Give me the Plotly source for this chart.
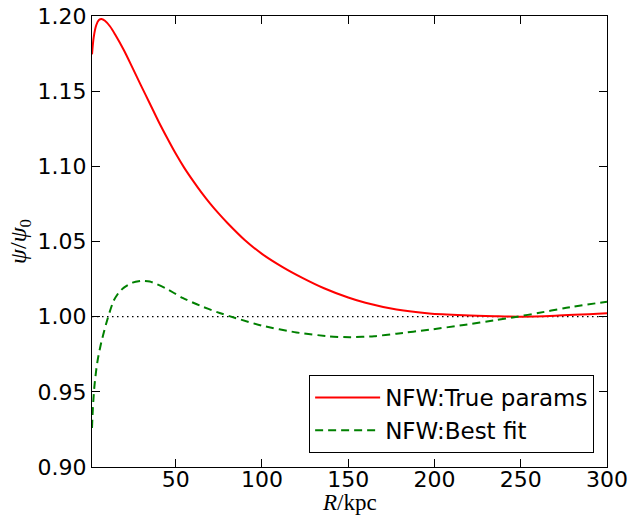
import plotly.graph_objects as go

# Red: NFW with true params
r_true = [1.5, 2.5, 4, 5.5, 7, 9, 12, 15, 20, 25, 30, 35, 40, 45, 50, 55, 60, 65,
          70, 75, 80, 90, 100, 112, 124, 136, 150, 160, 178, 197, 217, 235, 250,
          270, 300]
psi_true = [1.1745, 1.1860, 1.1940, 1.1973, 1.1980, 1.1968, 1.1930, 1.1875, 1.1772,
            1.1655, 1.1535, 1.1418, 1.1300, 1.1190, 1.1085, 1.0990, 1.0905, 1.0825,
            1.0752, 1.0685, 1.0623, 1.0510, 1.0418, 1.0330, 1.0255, 1.0189, 1.0127,
            1.0092, 1.0047, 1.0021, 1.0009, 1.0003, 1.0000, 1.0006, 1.0022]

# Green: NFW best fit
r_fit = [1.5, 2, 2.5, 3, 4, 5, 6.5, 8, 10, 12, 14, 17, 20, 25, 30, 35, 44, 54, 64,
         74, 85, 100, 120, 139, 151, 165, 178, 197, 217, 236, 248, 260, 275, 300]
psi_fit = [0.926, 0.939, 0.948, 0.955, 0.965, 0.9725, 0.981, 0.988, 0.9965, 1.0040,
           1.0105, 1.0160, 1.0193, 1.0226, 1.0238, 1.0234, 1.0190, 1.0125, 1.0074,
           1.0030, 0.9990, 0.9940, 0.9895, 0.9869, 0.9863, 0.9870, 0.9887, 0.9913,
           0.9945, 0.9978, 1.0000, 1.0024, 1.0056, 1.0100]

ref_x = [1.5, 300]
ref_y = [1.0, 1.0]

x_ticks = [50, 100, 150, 200, 250, 300]
y_ticks = [0.90, 0.95, 1.00, 1.05, 1.10, 1.15, 1.20]

fig = go.Figure()
fig.add_trace(go.Scatter(x=ref_x, y=ref_y, mode="lines", showlegend=False,
                         line=dict(color="black", width=1.3, dash="1.5px,3.5px")))
fig.add_trace(go.Scatter(x=r_true, y=psi_true, mode="lines", name="NFW:True params",
                         line=dict(color="#ff0000", width=2, shape="spline", smoothing=0.8)))
fig.add_trace(go.Scatter(x=r_fit, y=psi_fit, mode="lines", name="NFW:Best fit",
                         line=dict(color="#008000", width=2, dash="8px,5px",
                                   shape="spline", smoothing=0.6)))

axis_common = dict(showline=True, linecolor="black", linewidth=1, mirror="ticks",
                   ticks="inside", ticklen=8, tickcolor="black", tickwidth=1,
                   showgrid=False, zeroline=False, automargin=False,
                   tickfont=dict(family="DejaVu Sans", size=22, color="black"))

fig.update_layout(
    width=633, height=516,
    margin=dict(l=92, r=26, t=16, b=49),
    plot_bgcolor="white", paper_bgcolor="white",
    xaxis=dict(range=[1.5, 300], tickvals=x_ticks, ticklabelstandoff=-7,
               **axis_common),
    yaxis=dict(range=[0.90, 1.20], tickvals=y_ticks, tickformat=".2f",
               title=dict(text="<i>ψ</i>/<i>ψ</i><sub>0</sub>", standoff=4,
                          font=dict(family="Liberation Serif", size=24, color="black")),
               **axis_common),
    legend=dict(x=0.975, y=0.031, xanchor="right", yanchor="bottom",
                bordercolor="black", borderwidth=1, bgcolor="white",
                font=dict(family="DejaVu Sans", size=23, color="black"),
                itemwidth=65, tracegroupgap=0),
    annotations=[dict(text="<i>R</i>/kpc", xref="paper", yref="paper",
                      x=0.5, y=-0.078, xanchor="center", yanchor="middle",
                      showarrow=False,
                      font=dict(family="Liberation Serif", size=23, color="black"))],
)

fig.write_html("out.html")
